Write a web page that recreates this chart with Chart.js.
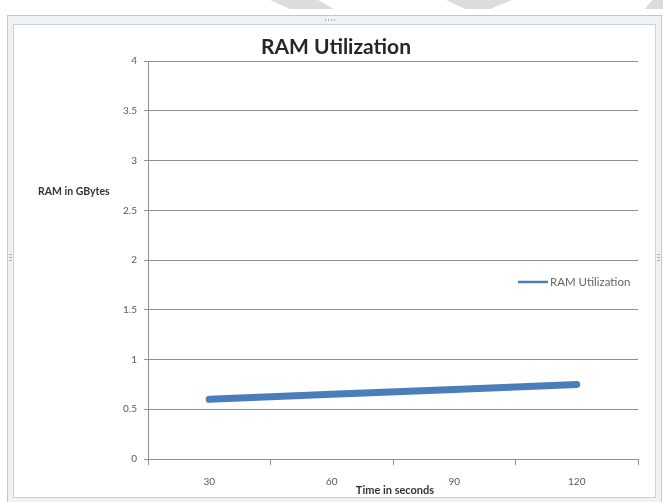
<!DOCTYPE html>
<html><head><meta charset="utf-8">
<script src="https://cdn.jsdelivr.net/npm/chart.js@4"></script>
<style>html,body{margin:0;padding:0;background:#fff;overflow:hidden}#wrap{width:663px;height:502px;position:relative}canvas{display:block}</style>
</head><body><div id="wrap"><canvas id="c" width="663" height="502"></canvas></div>
<script>
const categories = ['30', '60', '90', '120'];
const ramValues = [0.6, 0.65, 0.7, 0.75];
const seriesName = 'RAM Utilization';
const chartTitle = 'RAM Utilization';
const yAxisTitle = 'RAM in GBytes';
const xAxisTitle = 'Time in seconds';
const yMin = 0, yMax = 4, yStep = 0.5;

const FONT = 'Lato, "Open Sans", sans-serif';
const GRID = '#8f8f8f';

const decor = {
  id: 'decor',
  beforeDraw(chart) {
    const ctx = chart.ctx;
    ctx.save();
    ctx.fillStyle = '#fff';
    ctx.fillRect(0, 0, chart.width, chart.height);
    // background watermark pieces
    ctx.fillStyle = '#dcdcdc';
    const polys = [
      [[270,0],[318,0],[334,9],[290,9]],
      [[446,0],[512,0],[490,9],[465,9]],
      [[652,0],[663,0],[663,9],[645,9]]
    ];
    polys.forEach(p => { ctx.beginPath(); p.forEach((pt,i)=> i?ctx.lineTo(pt[0],pt[1]):ctx.moveTo(pt[0],pt[1])); ctx.closePath(); ctx.fill(); });
    // object frame
    ctx.fillStyle = '#eef2f4';
    ctx.fillRect(7, 15, 655, 487);
    ctx.strokeStyle = '#bcc7ce';
    ctx.lineWidth = 1;
    ctx.strokeRect(7.5, 15.5, 654, 490);
    ctx.fillStyle = '#fff';
    ctx.fillRect(14, 25, 642, 472);
    ctx.strokeStyle = '#cbd3d8';
    ctx.strokeRect(13.5, 24.5, 642, 473);
    // handles
    ctx.fillStyle = '#a8b2b8';
    for (let i = 0; i < 4; i++) { ctx.fillRect(325 + i*3, 19, 1, 2); }
    for (let i = 0; i < 3; i++) { ctx.fillRect(9, 254 + i*3, 3, 1); ctx.fillRect(657, 254 + i*3, 3, 1); }
    ctx.restore();
  },
  afterDraw(chart) {
    const ctx = chart.ctx;
    const ca = chart.chartArea;
    const ys = chart.scales.y;
    ctx.save();
    // y-axis title (horizontal)
    ctx.font = 'bold 10.5px ' + FONT;
    ctx.fillStyle = '#333';
    ctx.textAlign = 'left';
    ctx.textBaseline = 'middle';
    ctx.fillText(yAxisTitle, 38, ys.getPixelForValue(2.69));
    // x-axis title
    ctx.textAlign = 'center';
    ctx.font = 'bold 11px ' + FONT;
    ctx.fillText(xAxisTitle, (ca.left + ca.right) / 2 + 2, 490);
    // legend
    const ds = chart.data.datasets[0];
    const ly = ys.getPixelForValue(1.78);
    ctx.strokeStyle = ds.borderColor;
    ctx.lineWidth = 2.5;
    ctx.beginPath(); ctx.moveTo(518, ly); ctx.lineTo(548, ly); ctx.stroke();
    ctx.font = '11.5px ' + FONT;
    ctx.fillStyle = '#666';
    ctx.textAlign = 'left';
    ctx.fillText(ds.label, 550, ly);
    ctx.restore();
  }
};

new Chart(document.getElementById('c'), {
  type: 'line',
  data: {
    labels: categories,
    datasets: [{
      label: seriesName,
      data: ramValues,
      borderColor: '#4a7ebb',
      backgroundColor: '#4a7ebb',
      borderWidth: 7,
      borderCapStyle: 'round',
      pointRadius: 0,
      pointHoverRadius: 0,
      tension: 0,
      fill: false
    }]
  },
  options: {
    responsive: false,
    animation: false,
    devicePixelRatio: 1,
    events: [],
    layout: { padding: { left: 34, right: 25, top: 22, bottom: 0 } },
    plugins: {
      legend: { display: false },
      tooltip: { enabled: false },
      title: {
        display: true,
        text: chartTitle,
        color: '#262626',
        font: { family: FONT, size: 21, weight: 'bold' },
        padding: { top: 13, bottom: 1 }
      }
    },
    scales: {
      x: {
        type: 'category',
        offset: true,
        grid: { display: true, drawOnChartArea: false, drawTicks: true, tickLength: 6, offset: true, color: GRID },
        border: { display: true, color: GRID },
        ticks: { color: '#595959', font: { family: FONT, size: 10 }, padding: 11, maxRotation: 0 },
        afterFit(scale) { scale.height = 43; }
      },
      y: {
        min: yMin, max: yMax,
        ticks: { stepSize: yStep, color: '#595959', font: { family: FONT, size: 10 }, padding: 7,
                 callback: (v) => String(Number(v)) },
        grid: { color: GRID, drawTicks: true, tickLength: 4 },
        border: { display: true, color: GRID },
        afterFit(scale) { scale.width = 114; }
      }
    }
  },
  plugins: [decor]
});
</script>
</body></html>
